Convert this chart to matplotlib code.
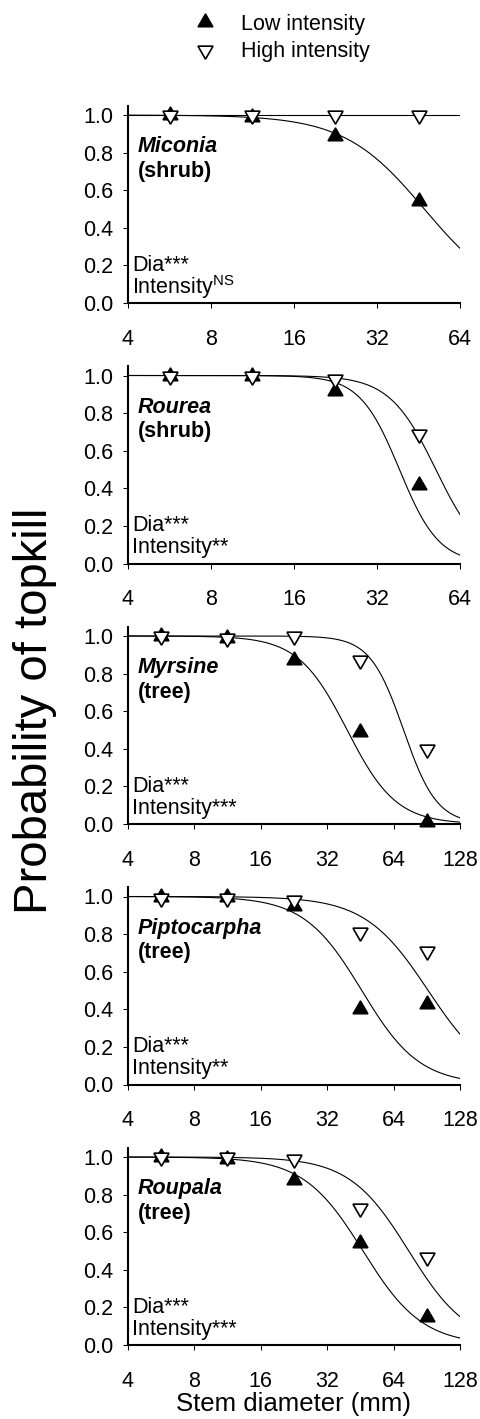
import numpy as np
import matplotlib
matplotlib.use('Agg')
import matplotlib.pyplot as plt
from matplotlib.lines import Line2D

plt.rcParams['font.family'] = ['Liberation Sans', 'DejaVu Sans']
plt.rcParams['mathtext.fontset'] = 'custom'
plt.rcParams['mathtext.rm'] = 'Liberation Sans'
plt.rcParams['mathtext.default'] = 'rm'

# data
species = ['Miconia', 'Rourea', 'Myrsine', 'Piptocarpha', 'Roupala']
habit = ['(shrub)', '(shrub)', '(tree)', '(tree)', '(tree)']
intensity_txt = ['Intensity$^{NS}$', 'Intensity**', 'Intensity***',
                 'Intensity**', 'Intensity***']
x_max = [64, 64, 128, 128, 128]
diam_mid = [5.66, 11.3, 22.6, 45.3, 90.5]  # mm, size-class midpoints

low_vals = [
    [1.0, 0.99, 0.89, 0.54],
    [1.0, 1.0, 0.92, 0.42],
    [1.0, 0.99, 0.87, 0.49, 0.01],
    [1.0, 1.0, 0.95, 0.40, 0.43],
    [1.0, 0.99, 0.88, 0.54, 0.15],
]
high_vals = [
    [1.0, 1.0, 1.0, 1.0],
    [1.0, 1.0, 0.98, 0.69],
    [1.0, 0.99, 1.0, 0.87, 0.40],
    [0.99, 0.99, 0.98, 0.81, 0.71],
    [1.0, 1.0, 0.99, 0.73, 0.47],
]

# logistic fits: diameter at p = 0.5 (mm) and slope per doubling
low_d50 = [47.5, 38.6, 39.4, 45.9, 46.5]
low_slope = [2.07, 4.2, 2.71, 2.3, 2.23]
high_d50 = [np.inf, 52.3, 71.0, 91.8, 75.0]
high_slope = [2.0, 3.58, 3.98, 2.1, 2.24]


def topkill(d, d50, slope):
    return 1.0 / (1.0 + np.exp(-slope * (np.log2(d50) - np.log2(d))))


# centroid-centred triangles so that coincident points form a star
TRI_UP = (3, 0, 0)
TRI_DOWN = (3, 0, 180)
MS = 12.5

W, H = 480, 1419
fig = plt.figure(figsize=(W / 100, H / 100), dpi=100)

for i in range(5):
    y_zero = 303 + 260.5 * i
    ax = fig.add_axes([128 / W, (H - y_zero) / H, 332 / W, 197.4 / H])

    xx = np.geomspace(4, x_max[i], 300)
    ax.plot(xx, topkill(xx, low_d50[i], low_slope[i]), color='black', lw=0.8)
    ax.plot(xx, topkill(xx, high_d50[i], high_slope[i]), color='black', lw=0.8)

    n = len(low_vals[i])
    ax.plot(diam_mid[:n], low_vals[i], ls='none', marker=TRI_UP, color='black',
            ms=MS, clip_on=False, zorder=3)
    ax.plot(diam_mid[:n], high_vals[i], ls='none', marker=TRI_DOWN, mfc='white',
            mec='black', mew=1.2, ms=MS, clip_on=False, zorder=4)

    ax.set_xscale('log', base=2)
    ax.set_xlim(4, x_max[i])
    ax.set_ylim(0, 1.05)
    xt = [t for t in [4, 8, 16, 32, 64, 128] if t <= x_max[i]]
    ax.set_xticks(xt)
    ax.set_xticklabels([str(t) for t in xt])
    ax.minorticks_off()
    ax.set_yticks([0, 0.2, 0.4, 0.6, 0.8, 1.0])
    ax.set_yticklabels(['0.0', '0.2', '0.4', '0.6', '0.8', '1.0'])

    for s in ['top', 'right']:
        ax.spines[s].set_visible(False)
    for s in ['left', 'bottom']:
        ax.spines[s].set_linewidth(1.5)
    ax.tick_params(direction='out', length=3.6, width=0.75, labelsize=15.5)
    ax.tick_params(axis='x', pad=15)
    ax.tick_params(axis='y', pad=7)

    tr = ax.get_yaxis_transform()
    ax.text(0.03, 0.83, species[i], transform=tr, fontsize=15.5,
            fontweight='bold', fontstyle='italic', va='center')
    ax.text(0.03, 0.70, habit[i], transform=tr, fontsize=15.5,
            fontweight='bold', va='center')
    ax.text(0.012, 0.20, 'Dia***', transform=tr, fontsize=15.5, va='center')
    ax.text(0.012, 0.085, intensity_txt[i], transform=tr, fontsize=15.5, va='center')

    if i == 4:
        ax.set_xlabel('Stem diameter (mm)', fontsize=18.5, labelpad=0)

fig.text(35 / W, 1 - 711 / H, 'Probability of topkill', rotation=90,
         fontsize=34, ha='center', va='center')

handles = [Line2D([], [], ls='none', marker=TRI_UP, color='black', ms=MS),
           Line2D([], [], ls='none', marker=TRI_DOWN, mfc='white', mec='black',
                  mew=1.2, ms=MS)]
fig.legend(handles, ['Low intensity', 'High intensity'], loc='upper left',
           bbox_to_anchor=(194 / W, 1 - 14 / H), frameon=False, fontsize=15.5,
           handlelength=1.0, handletextpad=1.2, labelspacing=0.3,
           borderpad=0, borderaxespad=0)

fig.savefig('out.png', dpi=100)
